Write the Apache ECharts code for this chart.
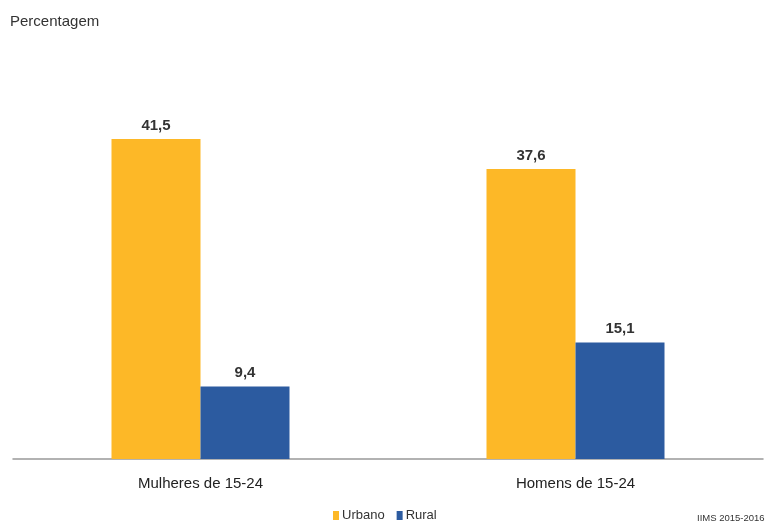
<!DOCTYPE html>
<html><head><meta charset="utf-8">
<script src="https://cdn.jsdelivr.net/npm/echarts@6/dist/echarts.min.js"></script>
<style>html,body{margin:0;padding:0;background:#fff}#c{width:766px;height:529px}</style>
</head><body><div id="c"></div>
<script>
const categories = ["Mulheres de 15-24", "Homens de 15-24"];
const urbano = [41.5, 37.6];
const rural = [9.4, 15.1];
const seriesNames = ["Urbano", "Rural"];
const fmt = v => String(v.value).replace('.', ',');
const chart = echarts.init(document.getElementById('c'));
chart.setOption({
  animation: false,
  textStyle: { fontFamily: 'Liberation Sans, Arial, sans-serif' },
  title: [
    { text: 'Percentagem', left: 5, top: 9, textStyle: { fontSize: 15, fontWeight: 'normal', color: '#333' } },
    { text: 'IIMS 2015-2016', left: 692, top: 508, textStyle: { fontSize: 9.5, fontWeight: 'normal', color: '#333' } }
  ],
  legend: {
    top: 504, left: 328, itemWidth: 6, itemHeight: 9, itemGap: 12,
    icon: 'rect', textStyle: { fontSize: 13, color: '#333', padding: [0, 0, 0, -2] },
    data: seriesNames
  },
  grid: { left: 13, right: 3, top: 73.5, bottom: 70 },
  xAxis: {
    type: 'category', data: categories,
    axisLine: { lineStyle: { color: '#999', width: 1.5 } },
    axisTick: { show: false },
    axisLabel: { fontSize: 15, color: '#222', margin: 17 }
  },
  yAxis: { type: 'value', min: 0, max: 50, show: false, splitLine: { show: false } },
  series: [
    { name: seriesNames[0], type: 'bar', data: urbano, barWidth: 89, barGap: '0%',
      itemStyle: { color: '#FDB827' },
      label: { show: true, position: 'top', formatter: fmt, fontSize: 15, fontWeight: 'bold', color: '#333', distance: 6 } },
    { name: seriesNames[1], type: 'bar', data: rural, barWidth: 89,
      itemStyle: { color: '#2C5BA0' },
      label: { show: true, position: 'top', formatter: fmt, fontSize: 15, fontWeight: 'bold', color: '#333', distance: 6 } }
  ]
});
</script></body></html>
